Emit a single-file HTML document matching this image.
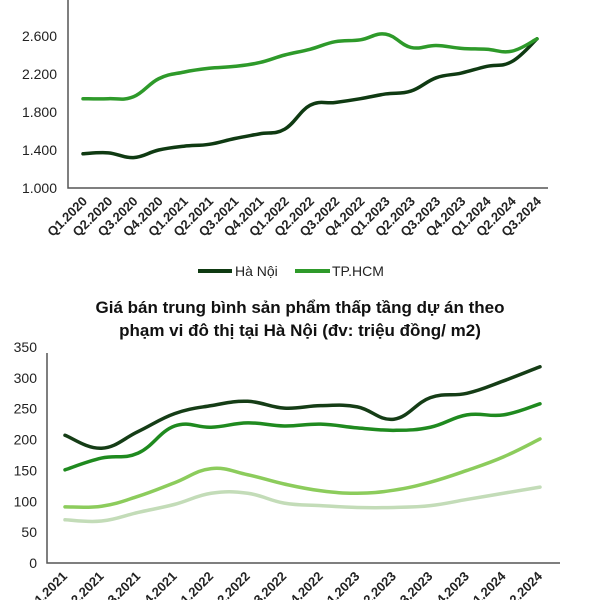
<!DOCTYPE html>
<html><head><meta charset="utf-8"><style>
html,body{margin:0;padding:0;background:#fff;width:600px;height:600px;overflow:hidden}
svg{display:block;font-family:"Liberation Sans",sans-serif}
</style></head><body>
<svg id="c" width="600" height="600" viewBox="0 0 600 600"></svg>
<script>
const cats1=["Q1.2020","Q2.2020","Q3.2020","Q4.2020","Q1.2021","Q2.2021","Q3.2021","Q4.2021","Q1.2022","Q2.2022","Q3.2022","Q4.2022","Q1.2023","Q2.2023","Q3.2023","Q4.2023","Q1.2024","Q2.2024","Q3.2024"];
const hanoi1=[1360,1370,1320,1400,1440,1460,1520,1570,1620,1870,1900,1940,1990,2020,2160,2210,2280,2330,2570];
const hcm1=[1940,1940,1960,2150,2220,2260,2280,2320,2400,2460,2540,2560,2620,2480,2500,2470,2460,2440,2570];
const ticks1=[1000,1400,1800,2200,2600];
const tickLabels1=["1.000","1.400","1.800","2.200","2.600"];
const cats2=["Q1.2021","Q2.2021","Q3.2021","Q4.2021","Q1.2022","Q2.2022","Q3.2022","Q4.2022","Q1.2023","Q2.2023","Q3.2023","Q4.2023","Q1.2024","Q2.2024"];
const s2a=[207,186,213,242,255,262,251,255,253,233,268,275,295,318];
const s2b=[151,170,178,222,220,227,222,225,219,215,220,240,240,258];
const s2c=[91,92,108,130,153,143,128,117,113,118,131,150,172,201];
const s2d=[70,68,82,95,113,113,97,93,90,90,93,103,113,123];
const ticks2=[0,50,100,150,200,250,300,350];
const NS="http://www.w3.org/2000/svg";
const svg=document.getElementById('c');
function el(t,a,p){const e=document.createElementNS(NS,t);for(const k in a)e.setAttribute(k,a[k]);(p||svg).appendChild(e);return e;}
function smooth(pts){let d="M"+pts[0][0]+","+pts[0][1];for(let i=0;i<pts.length-1;i++){const p0=pts[i-1]||pts[i],p1=pts[i],p2=pts[i+1],p3=pts[i+2]||p2;const t=0.2;d+=" C"+(p1[0]+(p2[0]-p0[0])*t)+","+(p1[1]+(p2[1]-p0[1])*t)+" "+(p2[0]-(p3[0]-p1[0])*t)+","+(p2[1]-(p3[1]-p1[1])*t)+" "+p2[0]+","+p2[1];}return d;}
// chart 1
const x1=i=>83+i*(537-83)/(cats1.length-1);
const y1=v=>188-(v-1000)*(152/1600);
ticks1.forEach((t,i)=>{const tx=el('text',{x:57,y:y1(t)+5,'text-anchor':'end','font-size':14,fill:'#222'});tx.textContent=tickLabels1[i];

});
const ax1=el('path',{d:"M68,0 V188 H548",stroke:'#555','stroke-width':1.5,fill:'none'});


cats1.forEach((c,i)=>{const tx=el('text',{transform:`translate(${x1(i)+5},${202}) rotate(-45)`,'text-anchor':'end','font-size':13,'font-weight':'bold',fill:'#222'});tx.textContent=c;

});
[[hanoi1,'#0f3a12','line-hanoi'],[hcm1,'#2e9a2a','line-hcm']].forEach(([s,col,n])=>{const p=el('path',{d:smooth(s.map((v,i)=>[x1(i),y1(v)])),stroke:col,'stroke-width':3.5,fill:'none','stroke-linecap':'round'});

});
// legend
const lg=el('g',{});


el('line',{x1:198,y1:271,x2:232,y2:271,stroke:'#0f3a12','stroke-width':4},lg);
const l1=el('text',{x:235,y:276,'font-size':14,fill:'#222'},lg);l1.textContent="Hà Nội";
el('line',{x1:295,y1:271,x2:330,y2:271,stroke:'#2e9a2a','stroke-width':4},lg);
const l2=el('text',{x:332,y:276,'font-size':14,fill:'#222'},lg);l2.textContent="TP.HCM";
// chart 2 title
const t1=el('text',{x:300,y:313,'text-anchor':'middle','font-size':17,'font-weight':'bold',fill:'#111'});t1.textContent="Giá bán trung bình sản phẩm thấp tầng dự án theo";


const t2=el('text',{x:300,y:336,'text-anchor':'middle','font-size':17,'font-weight':'bold',fill:'#111'});t2.textContent="phạm vi đô thị tại Hà Nội (đv: triệu đồng/ m2)";


const x2=i=>65+i*(540-65)/(cats2.length-1);
const y2=v=>563-v*(216/350);
ticks2.forEach(t=>{const tx=el('text',{x:37,y:y2(t)+5,'text-anchor':'end','font-size':14,fill:'#222'});tx.textContent=t;

});
const ax2=el('path',{d:"M47,353 V563 H560",stroke:'#555','stroke-width':1.5,fill:'none'});


cats2.forEach((c,i)=>{const tx=el('text',{transform:`translate(${x2(i)+3},${577}) rotate(-45)`,'text-anchor':'end','font-size':13,'font-weight':'bold',fill:'#222'});tx.textContent=c;

});
[[s2d,'#c3dcb8','line-series-4'],[s2c,'#8ccc5c','line-series-3'],[s2b,'#1f8a1f','line-series-2'],[s2a,'#153d16','line-series-1']].forEach(([s,col,n])=>{const p=el('path',{d:smooth(s.map((v,i)=>[x2(i),y2(v)])),stroke:col,'stroke-width':3.5,fill:'none','stroke-linecap':'round'});

});
</script>
</body></html>
